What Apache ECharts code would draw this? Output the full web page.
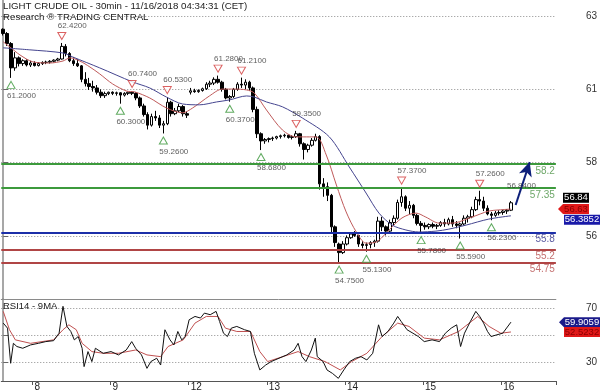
<!DOCTYPE html>
<html><head><meta charset="utf-8">
<script src="https://cdn.jsdelivr.net/npm/echarts@6/dist/echarts.min.js"></script>
<style>html,body{margin:0;padding:0;background:#fff}#c{width:600px;height:392px}</style>
</head><body><div id="c"></div>
<script>
// ---------------- DATA ----------------
const title1 = 'LIGHT CRUDE OIL - 30min - 11/16/2018 04:34:31 (CET)';
const title2 = 'Research \u00AE TRADING CENTRAL';
const rsiTitle = 'RSI14 - 9MA';
const dayLabels = ['8','9','12','13','14','15','16'];
const dayStart = [8,28,48,68,88,108,128];
const nCats = 142;
const priceTicks = [55.68, 58.24, 60.80, 63.36];
const rsiTicks = [30, 50, 70];
const rsiLabelTicks = [30, 70];
// candles: [open, close, low, high]
const candles = [
[62.90,62.75,62.68,62.93],[62.75,62.40,62.32,62.80],[62.40,61.55,61.20,62.45],[61.55,61.90,61.45,62.10],
[61.90,61.70,61.60,61.95],[61.70,61.80,61.62,61.85],[61.80,61.65,61.60,61.85],[61.65,61.72,61.58,61.80],
[61.72,61.63,61.60,61.78],[61.63,61.70,61.60,61.75],[61.70,61.74,61.65,61.78],[61.74,61.75,61.68,61.80],
[61.75,61.78,61.70,61.82],[61.78,61.82,61.74,61.85],[61.82,61.86,61.78,61.90],[61.86,62.30,61.84,62.42],
[62.30,62.05,61.95,62.38],[62.05,61.80,61.75,62.10],[61.80,61.70,61.62,61.92],[61.70,61.62,61.58,61.85],
[61.62,61.15,61.05,61.65],[61.15,61.00,60.90,61.40],[61.00,60.90,60.78,61.20],[60.90,60.85,60.72,61.10],
[60.85,60.70,60.62,60.95],[60.70,60.58,60.50,60.80],[60.58,60.65,60.50,60.72],[60.65,60.70,60.60,60.72],
[60.70,60.66,60.60,60.73],[60.66,60.68,60.58,60.72],[60.68,60.60,60.30,60.70],[60.60,60.66,60.55,60.70],
[60.66,60.70,60.60,60.72],[60.70,60.66,60.60,60.74],[60.66,60.50,60.42,60.70],[60.50,60.22,60.15,60.55],
[60.22,59.92,59.85,60.30],[59.92,59.55,59.40,60.00],[59.55,59.85,59.50,59.95],[59.85,59.80,59.70,60.05],
[59.80,59.55,59.45,59.90],[59.55,59.60,59.26,59.70],[59.60,60.35,59.55,60.53],[60.35,59.95,59.85,60.40],
[59.95,60.05,59.90,60.15],[60.05,60.20,60.00,60.30],[60.20,59.95,59.85,60.25],[59.95,59.90,59.80,60.02],
[60.70,60.75,60.62,60.85],[60.75,60.72,60.68,60.82],[60.72,60.76,60.68,60.80],[60.76,60.82,60.72,60.86],
[60.82,60.98,60.78,61.05],[60.98,61.02,60.88,61.10],[61.02,61.15,60.95,61.22],[61.15,61.05,61.00,61.28],
[61.05,60.80,60.72,61.10],[60.80,60.50,60.45,60.85],[60.50,60.55,60.37,60.60],[60.55,60.80,60.50,60.85],
[60.80,60.98,60.75,61.05],[60.98,60.95,60.85,61.21],[60.95,61.05,60.80,61.15],[61.05,60.85,60.75,61.10],
[60.85,60.10,60.00,60.90],[60.10,59.25,59.10,60.20],[59.25,59.00,58.68,59.30],[59.00,59.05,58.90,59.10],
[59.05,59.08,58.95,59.12],[59.08,59.10,59.00,59.15],[59.10,59.15,59.05,59.18],[59.15,59.18,59.08,59.22],
[59.18,59.20,59.12,59.25],[59.20,59.12,59.08,59.22],[59.12,59.15,59.05,59.20],[59.15,59.25,59.10,59.35],
[59.25,58.90,58.80,59.28],[58.90,58.70,58.35,58.95],[58.70,58.85,58.60,58.90],[58.85,59.02,58.80,59.10],
[59.02,59.15,58.98,59.25],[59.15,57.50,57.30,59.20],[57.50,57.40,57.05,57.70],[57.40,57.10,56.90,57.55],
[57.10,56.00,55.80,57.15],[56.00,55.45,55.30,56.05],[55.40,55.10,54.75,55.45],[55.10,55.40,55.05,55.50],
[55.40,55.62,55.35,55.70],[55.62,55.75,55.58,55.80],[55.75,55.70,55.65,55.85],[55.70,55.40,55.30,55.72],
[55.40,55.35,55.25,55.50],[55.35,55.38,55.13,55.45],[55.38,55.45,55.25,55.50],[55.45,55.50,55.30,55.55],
[55.50,56.20,55.45,56.35],[56.20,56.00,55.85,56.35],[56.00,55.85,55.70,56.05],[55.85,56.15,55.80,56.25],
[56.15,56.30,56.05,56.40],[56.30,56.85,56.25,56.95],[56.85,57.05,56.70,57.37],[57.05,56.65,56.55,57.10],
[56.65,56.75,56.45,56.90],[56.75,56.40,56.30,56.80],[56.40,56.12,56.05,56.45],[56.12,56.05,55.78,56.20],
[56.05,56.00,55.90,56.15],[56.00,56.08,55.92,56.12],[56.08,56.02,55.95,56.15],[56.02,56.05,55.92,56.10],
[56.05,56.15,56.00,56.20],[56.15,56.10,56.00,56.28],[56.10,56.25,56.05,56.32],[56.25,56.10,56.00,56.38],
[56.10,56.05,55.95,56.20],[56.05,56.10,55.59,56.15],[56.10,56.30,56.05,56.40],[56.30,56.35,56.15,56.42],
[56.35,56.60,56.30,56.70],[56.60,56.95,56.55,57.05],[56.95,56.90,56.75,57.26],[56.90,56.65,56.55,57.05],
[56.65,56.45,56.40,56.75],[56.45,56.40,56.23,56.52],[56.40,56.48,56.35,56.55],[56.48,56.50,56.40,56.58],
[56.50,56.55,56.42,56.60],[56.55,56.58,56.45,56.62],[56.58,56.84,56.55,56.90]
];
// moving averages on the price: [barIndex, value]
const maRed = [[0,62.46],[1.7,62.28],[4.3,62.00],[7.6,61.76],[11.9,61.72],[15.3,61.79],[17.1,61.90],[19.6,61.79],
[22.2,61.58],[24.7,61.34],[28.0,60.99],[31.6,60.74],[33.7,60.71],[37.5,60.50],[41.8,60.15],[45.9,59.98],
[48.5,60.15],[52.8,60.57],[56.1,60.81],[59.2,60.81],[62.3,60.78],[64.3,60.67],[67.4,60.08],[71.5,59.38],
[75.0,59.14],[80.1,59.14],[82.7,58.51],[85.3,57.46],[87.8,56.52],[90.4,55.82],[92.9,55.43],[95.5,55.47],
[98.8,55.89],[102.1,56.31],[105.7,56.48],[108.2,56.34],[111.6,56.13],[114.9,56.13],[120.0,56.34],[124.3,56.55],
[126.9,56.59],[130,56.62]];
const maBlue = [[0,62.25],[6.8,62.18],[15.3,62.07],[17.8,61.93],[24.7,61.55],[33.1,61.06],[37.5,60.85],[41.8,60.53],
[45.9,60.29],[50.3,60.26],[54.6,60.36],[57.9,60.43],[62.3,60.57],[64.3,60.53],[67.4,60.36],[71.5,60.19],
[76.6,59.80],[83.5,59.14],[88.6,58.09],[92.9,57.18],[96.2,56.48],[99.6,56.06],[103.1,55.89],[106.4,55.82],
[110.8,55.85],[114.1,55.92],[118.5,56.06],[124.3,56.27],[130,56.3852]];
// RSI(14) and its 9-period MA: [barIndex, value]
const rsi = [[0,59.2],[1.1,55.4],[1.9,29],[2.6,44],[3.5,41.6],[5.0,40.3],[7.0,42.8],[9.0,44],[10.9,45.3],[12.9,46],
[14.3,51.6],[15.3,71.8],[16.3,56.7],[17.3,52.9],[18.2,46.6],[19.2,49.1],[20.2,40.3],[20.7,26.5],[21.7,37.8],
[22.7,30.3],[23.6,40.3],[25.6,36.5],[27.6,37.8],[29.5,35.3],[31.5,39],[32.9,45.3],[33.9,40.3],[35.4,35.3],
[36.8,25.2],[37.8,30.3],[39.3,32.8],[40.3,27.7],[41.4,54.2],[42.7,46.6],[43.7,42.8],[44.7,52.9],[45.7,46.6],
[46.6,49.1],[47.6,61.7],[49.1,64.2],[50.5,63],[51.5,66.7],[53,65.5],[54.5,68],[55.4,60.4],[56.4,51.6],
[57.4,49.1],[58.4,55.4],[59.8,56.7],[61.8,54.2],[63.3,52.9],[64.3,36.5],[65.7,24],[67.2,27.7],[68.6,30.3],
[70.6,32.8],[72.6,35.3],[74.5,39],[75.5,44],[76.5,34],[77.5,30.3],[78.9,39],[79.9,47.9],[80.4,34],[81.9,30.3],
[82.9,24],[84.3,21.4],[85.8,17.7],[87.2,24],[88.7,30.3],[90.2,32.8],[91.6,34],[93.1,31.5],[94.6,36.5],
[96.1,57.9],[97,49.1],[98.5,52.9],[100,59.2],[101,64.2],[101.9,60.4],[103.4,54.2],[104.9,51.6],[106.3,49.1],
[107.8,45.3],[109.8,46.6],[111.7,45.3],[113.2,51.6],[114.7,55.4],[116.1,57.9],[117.1,41.6],[118.1,51.6],
[119.6,60.4],[121,68],[122,64.2],[123,59.2],[124,52.9],[124.9,49.1],[126.4,50.4],[127.9,51.6],[130,59.9059]];
const rsiMa = [[0,68],[1.6,54.2],[3.1,46.6],[7,44],[12.9,46.6],[15.3,54.2],[16.8,57.9],[18.7,54.2],[20.2,44],
[22.7,37.8],[25.6,36.5],[29.5,36.5],[33.9,39],[36.8,35.3],[40.3,34],[42.2,41.6],[46.1,46.6],[49.1,59.2],
[52,64.2],[55,64.2],[56.9,55.4],[59.8,52.9],[63.3,52.9],[65.7,37.8],[67.7,30.3],[71.6,34],[75.5,37.8],
[78.4,34],[82.4,30.3],[86.3,24],[89.2,30.3],[93.1,36.5],[97,49.1],[101,59.2],[103.9,56.7],[107.8,47.9],
[111.7,46.6],[116.6,52.9],[121.5,64.2],[124.4,56.7],[127.4,51.6],[130,52.5232]];
// pivot annotations
const pivotHighIdx = [15, 33, 42, 55, 61, 75, 102, 122];
const pivotHighVal = [62.42, 60.74, 60.53, 61.28, 61.21, 59.35, 57.37, 57.26];
const pivotLowIdx = [2, 30, 41, 58, 66, 86, 93, 107, 117, 125];
const pivotLowVal = [61.20, 60.30, 59.26, 60.37, 58.68, 54.75, 55.13, 55.78, 55.59, 56.23];
const lastIdx = 130, lastPrice = 56.84;
// key levels
const levelValues = [58.2, 57.35, 55.8, 55.2, 54.75];
const levelTexts = ['58.2', '57.35', '55.8', '55.2', '54.75'];
// forecast arrow [barIndex, price]
const arrowFrom = [131.2, 56.76];
const arrowTo = [134.8, 58.26];
// right-edge value tags
const tagPrice = '56.84', tagMaRed = '56.63', tagMaBlue = '56.3852';
const tagRsi = '59.9059', tagRsiMa = '52.5232';

// ---------------- STYLE / LAYOUT ----------------
const FONT = "'Liberation Sans', Arial, sans-serif";
const levelLine = ['#3c9a3c', '#3c9a3c', '#1c2fa8', '#b04545', '#b04545'];
const levelLabel = ['#6fa86a', '#6fa86a', '#5a5aa0', '#c47070', '#c47070'];
const gridL = 1.28, gridW = 555.9;
const cats = Array.from({length: nCats}, (_, i) => { const k = dayStart.indexOf(i); return k >= 0 ? dayLabels[k] : ''; });
const isDay = i => dayStart.indexOf(i) >= 0;

const chart = echarts.init(document.getElementById('c'), null, {renderer: 'canvas'});
const axisGray = '#8a8a8a';
const gridDots = {type: [1, 2], color: '#8c8c8c', width: 1};
const option = {
  animation: false,
  backgroundColor: '#fff',
  grid: [
    {left: gridL, top: 0, width: gridW, height: 299},
    {left: gridL, top: 299, width: gridW, height: 82}
  ],
  xAxis: [
    {type: 'category', gridIndex: 0, data: cats, boundaryGap: true,
     axisLine: {show: true, lineStyle: {color: axisGray, width: 1}}, axisTick: {show: false}, axisLabel: {show: false}, splitLine: {show: false}},
    {type: 'value', gridIndex: 0, min: -0.5, max: nCats - 0.5, show: false},
    {type: 'category', gridIndex: 1, data: cats, boundaryGap: true,
     axisLine: {show: true, lineStyle: {color: '#555', width: 1}},
     axisTick: {show: true, interval: (i) => isDay(i), length: 4, lineStyle: {color: '#555'}},
     axisLabel: {show: true, interval: (i) => isDay(i), align: 'left', margin: 1, fontSize: 10, color: '#222', fontFamily: FONT},
     splitLine: {show: false}},
    {type: 'value', gridIndex: 1, min: -0.5, max: nCats - 0.5, show: false}
  ],
  yAxis: [
    {type: 'value', gridIndex: 0, position: 'right', min: 53.48, max: 63.92, scale: true,
     axisLine: {show: true, lineStyle: {color: axisGray, width: 1.5}},
     axisTick: {show: true, length: 5, customValues: priceTicks, lineStyle: {color: '#666'}},
     axisLabel: {show: true, customValues: priceTicks, margin: 30, fontSize: 10, color: '#333', fontFamily: FONT,
                 formatter: v => String(Math.round(v))},
     splitLine: {show: true, lineStyle: gridDots}},
    {type: 'value', gridIndex: 1, position: 'right', min: 15.7, max: 77.3,
     axisLine: {show: true, lineStyle: {color: axisGray, width: 1.5}},
     axisTick: {show: true, length: 5, customValues: rsiTicks, lineStyle: {color: '#666'}},
     axisLabel: {show: true, customValues: rsiLabelTicks, margin: 30, fontSize: 10, color: '#333', fontFamily: FONT},
     splitLine: {show: true, lineStyle: gridDots}}
  ],
  series: [
    {type: 'candlestick', xAxisIndex: 0, yAxisIndex: 0, data: candles, barWidth: 3,
     itemStyle: {color: '#ffffff', color0: '#000000', borderColor: '#000000', borderColor0: '#000000', borderWidth: 1},
     markLine: {silent: true, symbol: 'none', animation: false,
       data: levelValues.map((v, k) => ({yAxis: v,
         lineStyle: {color: levelLine[k], width: 2, type: 'solid'},
         label: {show: true, position: 'insideEndBottom', distance: [1, 2], formatter: levelTexts[k],
                 color: levelLabel[k], fontSize: 10, fontFamily: FONT}}))}},
    {type: 'line', xAxisIndex: 1, yAxisIndex: 0, data: maRed, showSymbol: false, smooth: 0.3,
     lineStyle: {color: '#bf5a5a', width: 1}, z: 3},
    {type: 'line', xAxisIndex: 1, yAxisIndex: 0, data: maBlue, showSymbol: false, smooth: 0.3,
     lineStyle: {color: '#45458f', width: 1}, z: 3},
    // pivot triangles
    {type: 'scatter', xAxisIndex: 1, yAxisIndex: 0, data: pivotHighIdx.map((x, k) => [x, pivotHighVal[k]]),
     symbol: 'triangle', symbolSize: [8, 7], symbolRotate: 180, symbolOffset: [0, -7],
     itemStyle: {color: '#ffffff', borderColor: '#d23a3a', borderWidth: 1}, z: 5},
    {type: 'scatter', xAxisIndex: 1, yAxisIndex: 0, data: pivotLowIdx.map((x, k) => [x, pivotLowVal[k]]),
     symbol: 'triangle', symbolSize: [8, 7], symbolOffset: [0, 7],
     itemStyle: {color: '#ffffff', borderColor: '#3a963a', borderWidth: 1}, z: 5},
    // pivot labels
    {type: 'scatter', xAxisIndex: 1, yAxisIndex: 0,
     data: pivotHighIdx.map((x, k) => [x, pivotHighVal[k]]).concat([[lastIdx, lastPrice]]),
     symbolSize: 1, itemStyle: {color: 'rgba(0,0,0,0)'}, z: 6,
     label: {show: true, position: 'inside', align: 'left', offset: [-4, -17], fontSize: 8, color: '#333', fontFamily: FONT,
             formatter: p => p.value[1].toFixed(4)}},
    {type: 'scatter', xAxisIndex: 1, yAxisIndex: 0, data: pivotLowIdx.map((x, k) => [x, pivotLowVal[k]]),
     symbolSize: 1, itemStyle: {color: 'rgba(0,0,0,0)'}, z: 6,
     label: {show: true, position: 'inside', align: 'left', offset: [-4, 18], fontSize: 8, color: '#333', fontFamily: FONT,
             formatter: p => p.value[1].toFixed(4)}},
    // forecast arrow
    {type: 'line', xAxisIndex: 1, yAxisIndex: 0, data: [], z: 7,
     markLine: {silent: true, animation: false, symbol: ['none', 'arrow'], symbolSize: [10, 14],
       lineStyle: {color: '#0d1f7a', width: 2, type: 'solid'}, label: {show: false},
       data: [[{coord: arrowFrom}, {coord: arrowTo}]]}},
    // RSI
    {type: 'line', xAxisIndex: 3, yAxisIndex: 1, data: rsiMa, showSymbol: false,
     lineStyle: {color: '#c05050', width: 1}},
    {type: 'line', xAxisIndex: 3, yAxisIndex: 1, data: rsi, showSymbol: false,
     lineStyle: {color: '#111111', width: 1}}
  ]
};
chart.setOption(option);

// value tags at the right edge, positioned through the axes
const yP = v => chart.convertToPixel({yAxisIndex: 0}, v);
const yR = v => chart.convertToPixel({yAxisIndex: 1}, v);
const lastMaRed = maRed[maRed.length - 1][1], lastMaBlue = maBlue[maBlue.length - 1][1];
const lastRsi = rsi[rsi.length - 1][1], lastRsiMa = rsiMa[rsiMa.length - 1][1];
function rectTag(x, w, cy, bg, txt, fg) {
  return [{type: 'rect', shape: {x: x, y: cy - 5, width: w, height: 10}, style: {fill: bg}, z: 100},
          {type: 'text', x: x + w / 2, y: cy, style: {text: txt, fill: fg, font: '9.5px ' + FONT, align: 'center', verticalAlign: 'middle'}, z: 101}];
}
function arrowTag(x, w, cy, bg, txt, fg) {
  return [{type: 'polygon', shape: {points: [[x, cy], [x + 5, cy - 5], [x + w, cy - 5], [x + w, cy + 5], [x + 5, cy + 5]]}, style: {fill: bg}, z: 100},
          {type: 'text', x: x + 5 + (w - 5) / 2, y: cy, style: {text: txt, fill: fg, font: '9.5px ' + FONT, align: 'center', verticalAlign: 'middle'}, z: 101}];
}
const g = [];
g.push({type: 'text', left: 3, top: 1, style: {text: title1, fill: '#222', font: '9.7px ' + FONT}, z: 50});
g.push({type: 'text', left: 3, top: 12, style: {text: title2, fill: '#222', font: '9.7px ' + FONT}, z: 50});
g.push({type: 'text', left: 3, top: 301, style: {text: rsiTitle, fill: '#222', font: '9.5px ' + FONT}, z: 50});
g.push(...rectTag(563, 26, yP(lastPrice) - 5, '#000000', tagPrice, '#ffffff'));
g.push(...arrowTag(558, 31, yP(lastMaRed), '#e01818', tagMaRed, '#8a0000'));
g.push(...rectTag(564, 36, yP(lastMaBlue) + 4, '#1a1aa8', tagMaBlue, '#ffffff'));
g.push(...arrowTag(559, 41, yR(lastRsi), '#1a1a8a', tagRsi, '#ffffff'));
g.push(...rectTag(564, 36, yR(lastRsiMa), '#e01818', tagRsiMa, '#8a0000'));
chart.setOption({graphic: g});
</script>
</body></html>
